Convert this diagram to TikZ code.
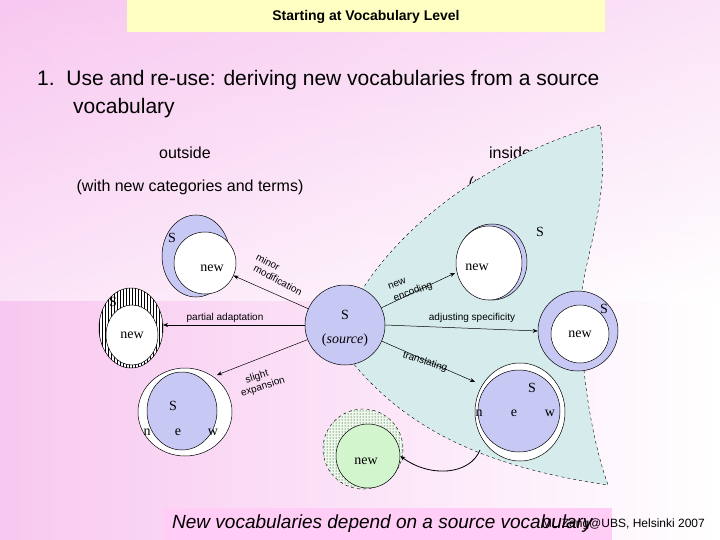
\documentclass[tikz,border=0pt]{standalone}
\usepackage{fontspec}
\setmainfont{Liberation Serif}
\setsansfont{Liberation Sans}
\usetikzlibrary{patterns,arrows.meta}
\definecolor{pinkbg}{RGB}{248,200,240}
\definecolor{lav}{RGB}{200,200,245}
\definecolor{teal}{RGB}{214,236,236}
\definecolor{grn}{RGB}{210,245,205}
\definecolor{ttl}{RGB}{255,255,195}
\definecolor{foot}{RGB}{255,205,245}
\tikzset{
 ring/.style={draw=black,line width=0.5pt},
 arr/.style={-{Stealth[length=5pt,width=4pt]},line width=0.5pt},
 lbl/.style={font=\sffamily\fontsize{10}{10}\selectfont,inner sep=0pt},
 ser/.style={font=\fontsize{14}{14}\selectfont,inner sep=0pt},
 hd/.style={font=\sffamily\fontsize{16}{16}\selectfont,inner sep=0pt}
}
\begin{document}
\begin{tikzpicture}[x=1pt,y=-1pt]
\useasboundingbox (0,0) rectangle (720,540);
\shade[left color=pinkbg,right color=white] (0,0) rectangle (720,540);
\shade[top color=pinkbg,bottom color=white,opacity=0.5] (0,0) rectangle (720,300);
\node[fill=ttl,minimum width=478pt,minimum height=32pt,inner sep=0pt] (ttl) at (366,16) {};
\node[font=\sffamily\bfseries\fontsize{14}{14}\selectfont] (t) at (366,17) {Starting at Vocabulary Level};
\node[anchor=west,font=\sffamily\fontsize{21}{21}\selectfont,inner sep=0pt] (l1) at (37,80) {1.\ \ Use and re-use: deriving new vocabularies from a source};
\node[anchor=west,font=\sffamily\fontsize{21}{21}\selectfont,inner sep=0pt] (l2) at (73,108) {vocabulary};
\node[hd] (out) at (185,153) {outside};
\node[hd] (in) at (510,153) {inside};
\node[hd] (wn) at (190,187) {(with new categories and terms)};
\node[hd] (nn) at (522,184) {(no new terms)};
% inside region
\draw[dashed,fill=teal,line width=0.4pt] (600,125) .. controls (480,160) and (400,230) .. (362,290) -- (352,362) .. controls (400,420) and (470,465) .. (608,485) .. controls (585,420) and (578,330) .. (582,290) .. controls (590,240) and (610,190) .. (600,125);
% source
\node[ring,fill=lav,circle,minimum size=80pt,inner sep=0pt] (src) at (345,325) {};
\node[ser] (srcS) at (345,315) {S};
\node[ser] (srcs) at (345,340) {(\textit{source})};
% top-left
\draw[ring,fill=lav] (196,256) ellipse (34 and 41);
\node[ring,fill=white,circle,minimum size=62pt,inner sep=0pt] (tl) at (205,263) {};
\node[ser] (tlS) at (172,238) {S};
\node[ser] (tln) at (212,268) {new};
% left hatched
\draw[ring,fill=white] (131,328) ellipse (32 and 40);
\fill[pattern=vertical lines] (131,328) ellipse (32 and 40);
\draw[ring,fill=white] (132,335) ellipse (26 and 30);
\coordinate (lhe) at (163,325);
\node[ser] (lhS) at (113,302) {S};
\node[ser] (lhn) at (132,335) {new};
% bottom-left
\draw[ring,fill=white] (185,412) ellipse (47 and 44);
\draw[ring,fill=lav] (182,411) ellipse (35 and 39);
\coordinate (bl) at (217,375);
\node[ser] (blS) at (173,406) {S};
\node[ser] (bln) at (147,432) {n};
\node[ser] (ble) at (178,432) {e};
\node[ser] (blw) at (213,432) {w};
% top-right
\draw[ring,fill=lav] (492,262) ellipse (35 and 38);
\draw[ring,fill=white] (489,263) ellipse (33 and 37);
\coordinate (tr) at (455,273);
\node[ser] (trS) at (540,232) {S};
\node[ser] (trn) at (477,267) {new};
% right
\node[ring,fill=lav,circle,minimum size=80pt,inner sep=0pt] (rt) at (578,331) {};
\node[ring,fill=white,circle,minimum size=58pt,inner sep=0pt] (rti) at (580,334) {};
\node[ser] (rtS) at (604,309) {S};
\node[ser] (rtn) at (580,334) {new};
% bottom-right
\draw[ring,fill=white] (520,412) ellipse (45 and 49);
\draw[ring,fill=lav] (519,411) ellipse (41 and 41);
\coordinate (br) at (475,382);
\coordinate (brb) at (480,450);
\node[ser] (brS) at (532,388) {S};
\node[ser] (brn) at (479,413) {n};
\node[ser] (bre) at (514,413) {e};
\node[ser] (brw) at (550,413) {w};
% green
\draw[dashed,fill=grn!40!white] (363,449) circle (40);
\fill[pattern=dots] (363,449) circle (40);
\node[ring,fill=grn,circle,minimum size=64pt,inner sep=0pt] (gr) at (368,456) {};
\node[ser] (grn) at (366,461) {new};
% arrows
\draw[arr] (src) -- (tl);
\node[lbl,rotate=-28] (mi) at (268,262) {minor};
\node[lbl,rotate=-28] (mo) at (278,280) {modification};
\draw[arr] (src.west) -- (lhe);
\node[lbl] (pa) at (225,318) {partial adaptation};
\draw[arr] (src) -- (bl);
\node[lbl,rotate=18] (sl) at (257,377) {slight};
\node[lbl,rotate=18] (ex) at (263,387) {expansion};
\draw[arr] (src) -- (tr);
\node[lbl,rotate=20] (ne) at (397,284) {new};
\node[lbl,rotate=20] (en) at (413,292) {encoding};
\draw[arr] (src.east) -- (rt.west);
\node[lbl] (as) at (472,318) {adjusting specificity};
\draw[arr] (src) -- (br);
\node[lbl,rotate=-18] (trl) at (425,362) {translating};
\draw[arr,line width=0.8pt] (brb) .. controls (470,475) and (430,478) .. (gr.east);
% footer
\node[fill=foot,minimum width=449pt,minimum height=32pt,inner sep=0pt] (ft) at (387,524) {};
\node[anchor=west,font=\sffamily\itshape\fontsize{19}{19}\selectfont,inner sep=0pt] (fx) at (172,524) {New vocabularies depend on a source vocabulary};
\node[anchor=east,font=\sffamily\fontsize{12}{12}\selectfont,inner sep=0pt] (fz) at (705,524) {ML Zeng@UBS, Helsinki 2007};
\end{tikzpicture}
\end{document}
